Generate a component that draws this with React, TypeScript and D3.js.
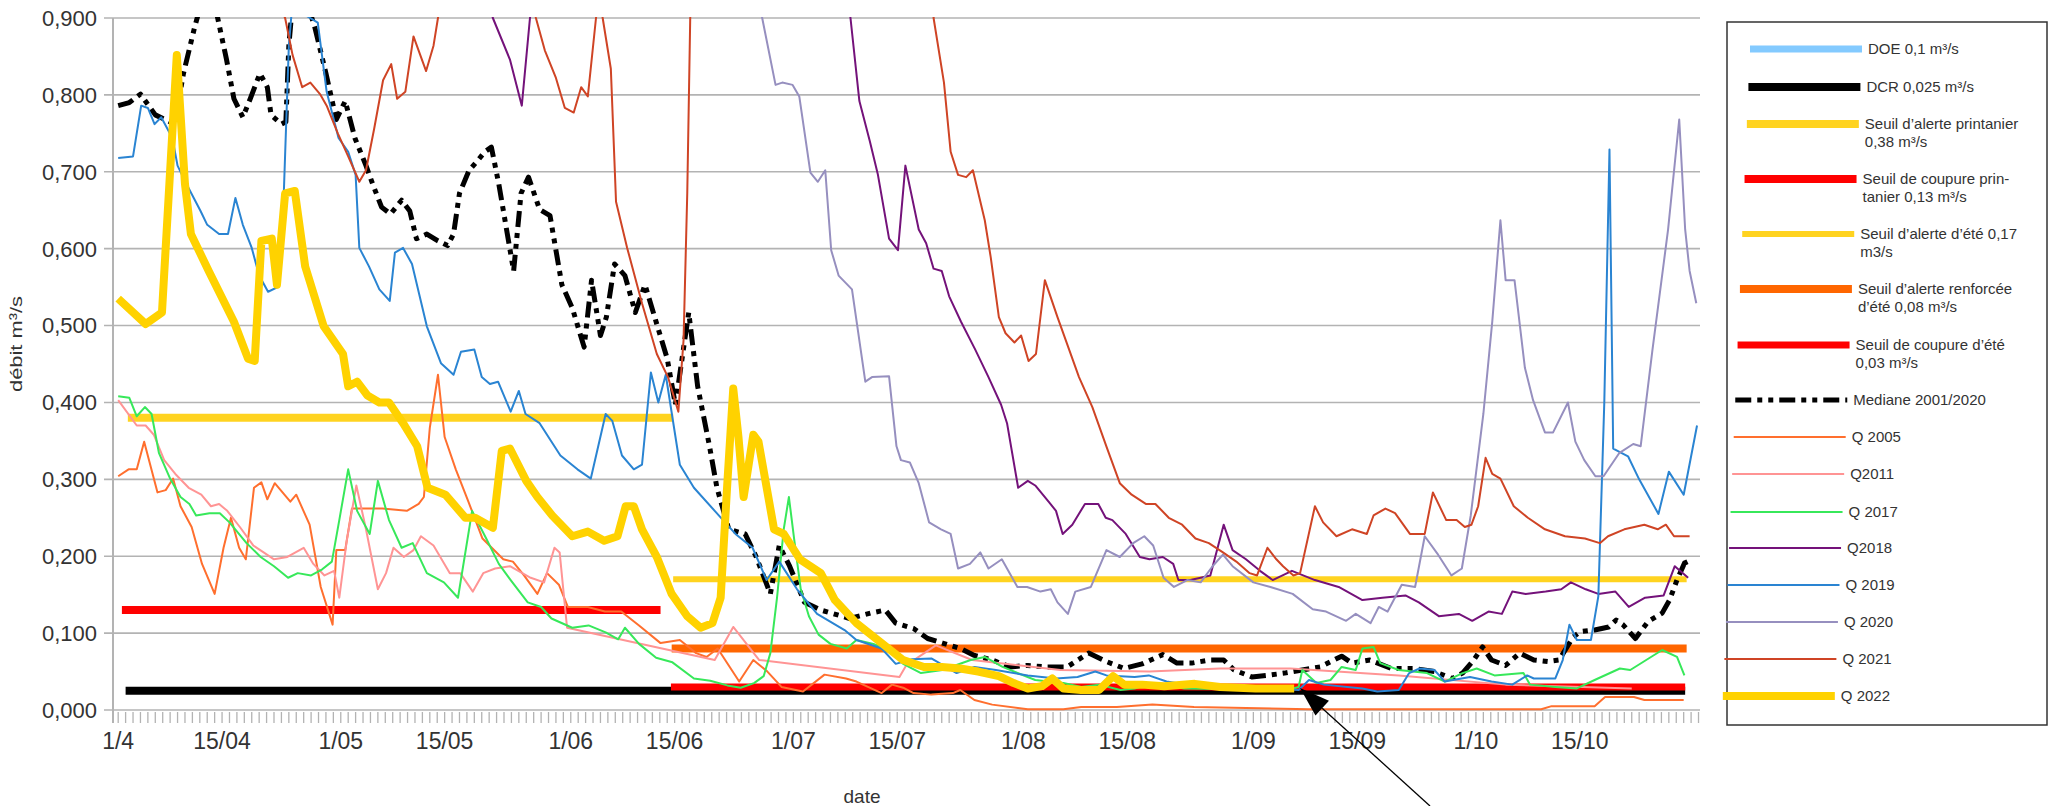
import React from 'react';
import * as d3 from 'd3';

type Pt = [number, number];

// day = number of days since 1 April, value = m³/s
const DAY0 = Date.UTC(2022, 3, 1);
const toDate = (d: number) => new Date(DAY0 + d * 864e5);

const tickDays = [0, 14, 30, 44, 61, 75, 91, 105, 122, 136, 153, 167, 183, 197];
const tickLabels = ['1/4', '15/04', '1/05', '15/05', '1/06', '15/06', '1/07', '15/07', '1/08', '15/08', '1/09', '15/09', '1/10', '15/10'];

const thresholdNames = [
  ['DOE 0,1 m³/s'],
  ['DCR 0,025 m³/s'],
  ['Seuil d’alerte printanier', '0,38 m³/s'],
  ['Seuil de coupure prin-', 'tanier 0,13 m³/s'],
  ['Seuil d’alerte d’été 0,17', 'm3/s'],
  ['Seuil d’alerte renforcée', 'd’été 0,08 m³/s'],
  ['Seuil de coupure d’été', '0,03 m³/s'],
];
const thresholdValues = [0.1, 0.025, 0.38, 0.13, 0.17, 0.08, 0.03];
const thresholdFrom = [NaN, 1, 1.3, 0.5, 74.8, 74.6, 74.5];
const thresholdTo = [NaN, 211.2, 74.8, 73.1, 211.4, 211.4, 211.2];

const mediane: Pt[] = [[0,0.786],[1.5,0.79],[3,0.801],[5,0.774],[7.6,0.762],[8.8,0.828],[10.3,0.888],[11.5,0.93],[13.3,0.905],[14.6,0.846],[15.6,0.795],[16.8,0.771],[17.8,0.795],[19.1,0.828],[20.1,0.81],[20.6,0.774],[22,0.762],[22.6,0.765],[23,0.864],[23.6,0.93],[25.1,0.93],[26.5,0.888],[28,0.828],[29.4,0.768],[30.6,0.792],[31.9,0.744],[33.4,0.708],[34.3,0.684],[35.5,0.654],[36.7,0.645],[38.2,0.663],[39.3,0.649],[40.2,0.613],[41.6,0.619],[43.1,0.61],[44.4,0.604],[45.2,0.619],[46,0.672],[47.3,0.702],[48.4,0.714],[49.4,0.726],[50.3,0.732],[51.3,0.684],[53.3,0.571],[54.3,0.672],[55.3,0.693],[56.8,0.651],[58.2,0.643],[59.8,0.553],[61.2,0.523],[62.8,0.472],[63.8,0.559],[65,0.487],[65.8,0.511],[66.9,0.58],[68.3,0.565],[69.7,0.517],[71,0.553],[72.5,0.505],[74,0.457],[75.1,0.397],[76,0.457],[76.9,0.517],[78.1,0.421],[79.7,0.343],[80.7,0.289],[82.3,0.235],[84.5,0.229],[86,0.199],[87.9,0.151],[89.1,0.214],[90.5,0.187],[92.5,0.14],[94.7,0.13],[98.6,0.119],[101.4,0.126],[103.4,0.13],[104.8,0.113],[107.2,0.106],[109.1,0.093],[111.1,0.087],[113.5,0.08],[115.4,0.071],[117.8,0.065],[120.2,0.056],[122.6,0.058],[125,0.056],[127.9,0.056],[130.8,0.074],[133.2,0.063],[135.6,0.054],[138,0.06],[140.8,0.072],[142.7,0.061],[144.7,0.061],[147.1,0.065],[149,0.065],[150.4,0.052],[152.8,0.043],[154.8,0.045],[157.2,0.048],[159.6,0.052],[162,0.056],[164.9,0.07],[166.3,0.061],[168.7,0.065],[171.6,0.054],[174.5,0.054],[177.4,0.05],[179.8,0.041],[181.2,0.048],[182.7,0.065],[183.9,0.082],[185.1,0.065],[187,0.058],[188.9,0.074],[190.8,0.065],[192.7,0.063],[194.2,0.065],[196.1,0.095],[197.1,0.102],[199,0.104],[200.9,0.108],[201.9,0.117],[202.8,0.111],[204.5,0.093],[206.2,0.115],[208.1,0.126],[209.1,0.143],[210.1,0.169],[211.1,0.191],[212,0.195]];

const q2005: Pt[] = [[0,0.304],[1.4,0.313],[2.5,0.313],[3.5,0.349],[5.3,0.283],[6.4,0.286],[7.4,0.301],[8.4,0.265],[9.9,0.238],[11.3,0.19],[13,0.151],[14.2,0.211],[15.2,0.25],[16.3,0.211],[17.2,0.196],[18.3,0.289],[19.3,0.296],[20.1,0.274],[21.1,0.295],[23.2,0.271],[24,0.28],[25.8,0.241],[27.3,0.16],[28.9,0.111],[29.4,0.208],[30.6,0.208],[31.5,0.262],[35.6,0.262],[38.9,0.259],[40.5,0.268],[41.2,0.277],[42,0.367],[43.1,0.436],[44,0.355],[45.5,0.313],[47.2,0.271],[49.1,0.223],[51.9,0.196],[53.2,0.193],[54.7,0.175],[56.5,0.151],[57.8,0.178],[59.4,0.163],[60.6,0.134],[63.3,0.134],[65.6,0.128],[67.8,0.128],[70.2,0.11],[73.1,0.087],[75.7,0.091],[77.9,0.074],[79.3,0.069],[80.8,0.08],[83.7,0.037],[85.6,0.065],[87.5,0.05],[89.4,0.03],[92.3,0.024],[95.2,0.046],[98.1,0.041],[99.5,0.037],[102.9,0.022],[104.3,0.033],[105.8,0.029],[107.2,0.022],[109.6,0.02],[112.5,0.022],[113.5,0.026],[115.4,0.013],[117.8,0.007],[122.6,0.001],[127.4,0.001],[129.8,0.004],[134.6,0.004],[139.4,0.007],[145,0.004],[160.5,0.001],[177.4,0.001],[191.8,0.001],[193.2,0.005],[199,0.005],[200.4,0.017],[204.3,0.017],[205.7,0.013],[211,0.013]];

const q2011: Pt[] = [[0,0.403],[2.5,0.37],[3.7,0.37],[4.8,0.358],[6.2,0.325],[7.7,0.307],[9.5,0.289],[11.2,0.28],[12.5,0.265],[13.6,0.268],[14.7,0.259],[16.4,0.238],[18.2,0.214],[19.6,0.205],[21,0.196],[22.8,0.199],[25,0.211],[26.3,0.19],[27.8,0.175],[29.1,0.181],[29.8,0.146],[30.8,0.22],[32.1,0.292],[33.4,0.235],[35,0.157],[36.1,0.178],[37.1,0.211],[38.5,0.199],[39.8,0.208],[40.8,0.226],[42.5,0.214],[44.7,0.178],[46.1,0.178],[47.8,0.154],[49.2,0.178],[50.8,0.184],[52.8,0.187],[55.6,0.172],[57.4,0.166],[58.8,0.211],[59.5,0.205],[60.5,0.107],[80.4,0.065],[82.9,0.108],[86.4,0.065],[105.3,0.043],[106.2,0.058],[110.2,0.084],[115.1,0.065],[127,0.052],[139,0.05],[148.5,0.054],[158,0.054],[172.6,0.045],[187,0.033],[204,0.028]];

const q2017: Pt[] = [[0,0.408],[1.5,0.406],[2.5,0.382],[3.6,0.394],[4.5,0.385],[5.5,0.334],[7,0.301],[8.4,0.277],[9.6,0.268],[10.5,0.253],[12.3,0.256],[13.7,0.256],[15,0.244],[17.3,0.217],[19.2,0.199],[21,0.187],[22.9,0.172],[24.2,0.178],[26,0.175],[27.5,0.183],[28.8,0.193],[29.8,0.247],[31,0.313],[32.2,0.259],[33.9,0.229],[35,0.298],[36.5,0.247],[38.2,0.211],[39.7,0.217],[41.6,0.178],[43.9,0.166],[45.8,0.146],[47.7,0.259],[49.6,0.223],[51.3,0.19],[52.9,0.169],[55.2,0.14],[57,0.134],[58.4,0.119],[61.2,0.107],[63.4,0.11],[65.7,0.101],[67.4,0.092],[68.3,0.107],[70.2,0.086],[72.5,0.068],[74.7,0.062],[77.6,0.041],[79.8,0.038],[82.1,0.032],[83.9,0.029],[85.7,0.035],[87,0.044],[87.9,0.074],[88.8,0.146],[89.7,0.235],[90.4,0.277],[91.1,0.223],[92,0.157],[93.1,0.122],[94.4,0.098],[96,0.086],[98.2,0.08],[99.5,0.091],[101.8,0.086],[104.5,0.074],[105.8,0.06],[108.2,0.048],[111.1,0.052],[114.9,0.065],[116.8,0.069],[119.2,0.056],[123.6,0.039],[127.4,0.035],[129.8,0.03],[132.2,0.033],[135.1,0.026],[137,0.028],[139.4,0.035],[143.7,0.028],[157.6,0.026],[159.1,0.03],[159.6,0.052],[161.5,0.035],[163.4,0.039],[164.9,0.056],[166.8,0.052],[167.7,0.08],[169.2,0.082],[170.1,0.061],[172.6,0.052],[176.4,0.048],[178.8,0.037],[181.2,0.048],[183.1,0.054],[185.5,0.045],[189.4,0.048],[190.3,0.033],[193.7,0.03],[196.6,0.028],[199,0.039],[202.4,0.054],[203.8,0.052],[208.1,0.078],[210.1,0.069],[211.1,0.045]];

const q2018: Pt[] = [[49,0.95],[50.5,0.9],[52.8,0.846],[54.4,0.786],[55.5,0.9],[56.5,0.95],[98,0.95],[98.7,0.9],[99.9,0.792],[101.3,0.74],[102.4,0.696],[103.9,0.613],[105.1,0.598],[106.1,0.708],[107.9,0.625],[108.9,0.607],[109.9,0.574],[111,0.571],[112,0.538],[113.6,0.505],[115.5,0.469],[117.3,0.433],[119,0.397],[119.8,0.373],[121.3,0.289],[122.6,0.298],[123.6,0.292],[125.4,0.271],[126.4,0.259],[127.3,0.229],[128.6,0.241],[130.3,0.268],[132.1,0.268],[133.1,0.25],[134,0.247],[135.8,0.229],[137.7,0.199],[139,0.196],[140.8,0.199],[142.2,0.19],[142.9,0.169],[144.5,0.169],[145.9,0.172],[147.2,0.175],[149,0.241],[150.2,0.208],[152,0.196],[153.9,0.181],[155.6,0.169],[158.2,0.181],[161.3,0.169],[164.5,0.16],[167.7,0.143],[170.4,0.146],[173.5,0.149],[175.3,0.14],[178,0.122],[180.7,0.125],[182.5,0.116],[184.7,0.128],[186.5,0.125],[187.9,0.154],[189.7,0.151],[192.4,0.154],[194.5,0.157],[195.8,0.166],[197.8,0.157],[199.5,0.151],[201.8,0.154],[203.6,0.134],[205.8,0.146],[208.3,0.149],[209.8,0.187],[211.6,0.172]];

const q2019: Pt[] = [[0,0.718],[2,0.72],[3.1,0.786],[4,0.783],[4.9,0.762],[5.8,0.771],[7.3,0.744],[8,0.708],[9.2,0.684],[11.1,0.649],[12,0.631],[13.6,0.619],[14.8,0.619],[15.8,0.666],[16.8,0.631],[18,0.601],[19,0.565],[20.2,0.544],[21.5,0.55],[22.3,0.666],[23,0.864],[23.4,0.91],[25,0.905],[26.9,0.894],[28.1,0.804],[29.7,0.744],[31,0.726],[32,0.696],[32.5,0.601],[33.8,0.577],[35.2,0.547],[36.6,0.532],[37.3,0.595],[38.4,0.601],[39.6,0.58],[41.6,0.499],[43.5,0.451],[45.2,0.436],[46.2,0.466],[48,0.469],[49,0.433],[50.1,0.424],[51.2,0.427],[52.9,0.388],[54,0.415],[54.9,0.385],[56.8,0.373],[59.6,0.331],[61.9,0.313],[63.7,0.301],[65.7,0.385],[66.6,0.376],[67.9,0.331],[69.5,0.313],[70.6,0.319],[71.8,0.439],[72.8,0.4],[73.8,0.436],[75.7,0.319],[77.6,0.289],[80.4,0.259],[83.2,0.229],[85.5,0.211],[87.4,0.169],[89.1,0.193],[91.5,0.157],[94.2,0.125],[97.9,0.104],[99.5,0.091],[102.9,0.08],[104.8,0.06],[107,0.066],[109.6,0.067],[113,0.048],[115.4,0.056],[118.3,0.052],[122.6,0.045],[126.4,0.041],[129.3,0.043],[131.7,0.05],[133.2,0.045],[137,0.043],[138.9,0.045],[141.3,0.037],[146.1,0.03],[150.9,0.028],[155.7,0.028],[159.1,0.026],[160.5,0.039],[162.5,0.033],[167.7,0.028],[169.7,0.024],[172.6,0.026],[174,0.048],[175.4,0.054],[177.4,0.052],[178.8,0.037],[182.2,0.043],[185.1,0.037],[187.9,0.033],[189.9,0.045],[190.8,0.041],[193.7,0.041],[194.7,0.065],[195.6,0.111],[196.6,0.091],[198.5,0.091],[199.5,0.148],[200.3,0.4],[201,0.729],[201.5,0.34],[203.5,0.33],[205,0.3],[207.6,0.255],[209,0.31],[211,0.28],[212.8,0.37]];

const q2020: Pt[] = [[85.5,0.95],[86.8,0.9],[88.6,0.813],[89.5,0.816],[90.9,0.813],[91.8,0.798],[93.3,0.699],[94.3,0.687],[95.3,0.702],[96.1,0.598],[97.1,0.565],[98.9,0.547],[100.7,0.427],[101.6,0.433],[103.9,0.434],[104.9,0.343],[105.5,0.325],[106.7,0.322],[107.9,0.295],[109.3,0.244],[110.9,0.235],[112.2,0.229],[113.2,0.184],[114.8,0.19],[116.2,0.205],[117.3,0.184],[119.1,0.196],[121.2,0.16],[122.5,0.16],[124.3,0.154],[125.7,0.157],[126.6,0.14],[128,0.125],[129,0.154],[131.1,0.16],[133.2,0.208],[135,0.199],[136.8,0.217],[138.3,0.226],[139.5,0.214],[140.9,0.172],[142.3,0.16],[144.1,0.169],[145.9,0.166],[147.5,0.187],[148.9,0.202],[150.2,0.187],[153,0.166],[155.3,0.16],[158.3,0.151],[161,0.131],[162.8,0.128],[165.5,0.116],[166.8,0.125],[168.8,0.113],[169.9,0.134],[171.1,0.128],[173,0.163],[174.8,0.16],[176.1,0.226],[177.9,0.202],[179.7,0.175],[181.1,0.184],[182.3,0.253],[184,0.385],[185.2,0.505],[186.3,0.637],[187,0.559],[188.2,0.559],[189.6,0.445],[190.7,0.403],[192.3,0.361],[193.4,0.361],[195.4,0.4],[196.4,0.349],[197.6,0.325],[199.1,0.304],[200.2,0.304],[202.3,0.334],[204.2,0.346],[205.2,0.343],[206.8,0.469],[208.9,0.625],[210.4,0.768],[211.2,0.625],[211.8,0.571],[212.7,0.529]];

const q2021: Pt[] = [[20,0.95],[22.5,0.9],[23.5,0.852],[24.8,0.81],[25.9,0.816],[27.2,0.801],[28.1,0.786],[29.6,0.75],[31,0.72],[32.5,0.687],[33.4,0.702],[34.5,0.756],[35.7,0.819],[36.8,0.84],[37.6,0.795],[38.7,0.804],[39.8,0.876],[41.5,0.831],[42.5,0.864],[43.1,0.9],[44,0.95],[55.5,0.95],[56.3,0.9],[57.5,0.858],[59,0.822],[60.2,0.783],[61.4,0.777],[62.4,0.81],[63.3,0.798],[64.4,0.9],[64.8,0.93],[65.3,0.9],[66.4,0.834],[67.1,0.661],[68.6,0.601],[70.6,0.529],[72.6,0.463],[74.1,0.433],[75.5,0.388],[76.2,0.481],[76.7,0.672],[77.1,0.9],[77.6,0.95],[109.5,0.95],[109.9,0.9],[111.3,0.816],[112.2,0.726],[113.2,0.696],[114.3,0.693],[115.2,0.702],[116.8,0.637],[117.6,0.589],[118.7,0.511],[119.6,0.49],[120.8,0.478],[121.7,0.487],[122.7,0.454],[123.7,0.463],[124.9,0.559],[126.6,0.511],[129.5,0.433],[131.3,0.394],[133.3,0.34],[135,0.295],[136.6,0.28],[138.5,0.268],[139.8,0.268],[141.6,0.25],[143.4,0.241],[145.2,0.223],[147,0.217],[148.9,0.205],[150.7,0.193],[152.5,0.178],[153.5,0.175],[154.9,0.211],[156.1,0.196],[157,0.187],[158.4,0.175],[159.3,0.178],[161.3,0.265],[162.4,0.244],[164.2,0.226],[166.3,0.235],[168.3,0.229],[169.2,0.253],[170.8,0.262],[172.1,0.256],[174.1,0.229],[176.1,0.229],[177.2,0.283],[179,0.247],[180.4,0.247],[181.5,0.238],[182.4,0.241],[183.3,0.265],[184.3,0.328],[185.2,0.307],[186.3,0.301],[188.1,0.265],[190,0.25],[192.3,0.235],[195,0.226],[197.7,0.223],[199.7,0.217],[200.8,0.226],[203,0.235],[205.7,0.241],[207.5,0.235],[208.6,0.241],[209.7,0.226],[211.8,0.226]];

const q2022: Pt[] = [[0,0.535],[3.7,0.502],[5.9,0.517],[7.9,0.852],[9,0.684],[9.8,0.619],[12.2,0.571],[15.6,0.505],[17.5,0.457],[18.4,0.454],[19.3,0.61],[20.7,0.613],[21.4,0.553],[22.5,0.672],[23.8,0.675],[25.2,0.577],[27.7,0.499],[30.3,0.463],[31,0.421],[32.2,0.427],[33.6,0.409],[35.2,0.4],[36.5,0.4],[38.4,0.373],[40.3,0.343],[41.7,0.289],[44.1,0.28],[46.8,0.25],[48.1,0.25],[50.5,0.237],[51.7,0.337],[52.8,0.34],[55,0.298],[56.5,0.277],[58.5,0.253],[61.2,0.226],[63.3,0.232],[65.5,0.22],[67.3,0.226],[68.4,0.265],[69.5,0.265],[70.6,0.235],[72.6,0.199],[74.6,0.151],[76.7,0.122],[78.5,0.107],[80.1,0.113],[81.2,0.146],[82.1,0.295],[82.9,0.418],[83.6,0.355],[84.3,0.277],[85.6,0.358],[86.3,0.349],[88.4,0.235],[89.7,0.229],[91.9,0.196],[94.7,0.178],[96.6,0.143],[99.5,0.113],[102.9,0.087],[105.8,0.065],[108.6,0.056],[111,0.056],[113.5,0.054],[115.9,0.05],[118.7,0.044],[120.7,0.035],[122.6,0.028],[124.5,0.031],[125.9,0.041],[127.4,0.028],[129.8,0.026],[132.2,0.026],[134.1,0.044],[135.6,0.033],[138,0.033],[141,0.031],[145.1,0.034],[148.5,0.03],[153.3,0.028],[158.5,0.028]];

const seriesNames = ['Mediane 2001/2020', 'Q 2005', 'Q2011', 'Q 2017', 'Q2018', 'Q 2019', 'Q 2020', 'Q 2021', 'Q 2022'];
const seriesData = [mediane, q2005, q2011, q2017, q2018, q2019, q2020, q2021, q2022];

const thresholdStyles = [
  { color: '#83caff', width: 7 },
  { color: '#000000', width: 8 },
  { color: '#ffd320', width: 8 },
  { color: '#ff0000', width: 8 },
  { color: '#ffd320', width: 6 },
  { color: '#ff6600', width: 8 },
  { color: '#ff0000', width: 7 },
];
const seriesStyles = [
  { color: '#000000', width: 5, dash: '16 6 5 6 5 6' },
  { color: '#ff6f2e', width: 2, dash: '' },
  { color: '#ff9494', width: 2, dash: '' },
  { color: '#37e85a', width: 2, dash: '' },
  { color: '#74127a', width: 2, dash: '' },
  { color: '#2a84d2', width: 2, dash: '' },
  { color: '#968fbf', width: 2, dash: '' },
  { color: '#cf4425', width: 2, dash: '' },
  { color: '#ffd200', width: 8, dash: '' },
];

const FONT = '"Liberation Sans", Arial, sans-serif';
const fmt = d3.formatLocale({ decimal: ',', thousands: ' ', grouping: [3], currency: ['', '€'] }).format('.3f');

export default function App() {
  const left = 113, right = 1700, top = 18, bottom = 710;
  const x = d3.scaleUtc().domain([toDate(-0.7), toDate(213.2)]).range([left, right]);
  const y = d3.scaleLinear().domain([0, 0.9]).range([bottom, top]);
  const line = d3.line<Pt>().x(d => x(toDate(d[0]))).y(d => y(d[1]));
  const days = x.ticks(d3.utcDay.every(1)!);

  const legendRows = [49, 87, 124, 179, 234, 289, 345, 400, 437, 474, 512, 548, 585, 622, 659, 696];
  const legendItems = [
    ...thresholdNames.map((t, i) => ({ text: t, ...thresholdStyles[i], dash: '' })),
    ...seriesNames.map((n, i) => ({ text: [n], ...seriesStyles[i] })),
  ];

  // arrow
  const ax0 = 1430, ay0 = 806, ax1 = 1300, ay1 = 688;
  const len = Math.hypot(ax1 - ax0, ay1 - ay0);
  const ux = (ax1 - ax0) / len, uy = (ay1 - ay0) / len;
  const bx = ax1 - ux * 30, by = ay1 - uy * 30;

  return (
    <svg width={2057} height={806} style={{ position: 'absolute', left: 0, top: 0, background: '#fff' }} fontFamily={FONT}>
      <rect width={2057} height={806} fill="#fff" />
      <defs>
        <clipPath id="plot">
          <rect x={left} y={top - 1} width={right - left} height={bottom - top + 6} />
        </clipPath>
      </defs>

      {/* grid + y axis */}
      {y.ticks(9).map(t => (
        <g key={t}>
          <line x1={left - 9} x2={right} y1={y(t)} y2={y(t)} stroke="#b3b3b3" strokeWidth={1.6} />
          <text x={97} y={y(t)} dy="0.36em" textAnchor="end" fontSize={22} fill="#333">{fmt(t)}</text>
        </g>
      ))}
      <line x1={left} x2={left} y1={top} y2={bottom + 13} stroke="#b3b3b3" strokeWidth={2} />
      {days.map((d, i) => (
        <line key={i} x1={x(d)} x2={x(d)} y1={bottom + 2} y2={bottom + 13} stroke="#b3b3b3" strokeWidth={1.3} />
      ))}
      {tickDays.map((d, i) => (
        <text key={d} x={x(toDate(d))} y={749} textAnchor="middle" fontSize={23} fill="#333">{tickLabels[i]}</text>
      ))}
      <text x={862} y={803} textAnchor="middle" fontSize={19} fill="#333">date</text>
      <text transform="translate(16,344) rotate(-90)" textAnchor="middle" dy="0.35em" fontSize={17} fill="#333"
        textLength={96} lengthAdjust="spacingAndGlyphs">débit m³/s</text>

      <g clipPath="url(#plot)">
        {thresholdValues.map((v, i) => isNaN(thresholdFrom[i]) ? null : (
          <line key={i} x1={x(toDate(thresholdFrom[i]))} x2={x(toDate(thresholdTo[i]))} y1={y(v)} y2={y(v)}
            stroke={thresholdStyles[i].color} strokeWidth={thresholdStyles[i].width} />
        ))}
        {seriesData.map((s, i) => (
          <path key={i} d={line(s) || ''} fill="none" stroke={seriesStyles[i].color}
            strokeWidth={seriesStyles[i].width} strokeDasharray={seriesStyles[i].dash || undefined}
            strokeLinejoin="round" />
        ))}
      </g>

      {/* legend */}
      <rect x={1727} y={22} width={320} height={703} fill="#fff" stroke="#333" strokeWidth={1.5} />
      {legendItems.map((it, i) => {
        const ly = legendRows[i];
        const x1 = 1750 - 0.042 * (ly - 49);
        return (
          <g key={i}>
            <line x1={x1} x2={x1 + 112} y1={ly} y2={ly} stroke={it.color} strokeWidth={it.width}
              strokeDasharray={it.dash || undefined} />
            {it.text.map((t, k) => (
              <text key={k} x={x1 + 118} y={ly + k * 18} dy="0.35em" fontSize={15} fill="#333">{t}</text>
            ))}
          </g>
        );
      })}

      {/* arrow */}
      <line x1={ax0} y1={ay0} x2={bx} y2={by} stroke="#000" strokeWidth={1.3} />
      <path d={`M${ax1},${ay1}L${bx - uy * 10},${by + ux * 10}L${bx + uy * 10},${by - ux * 10}Z`} fill="#000" />
    </svg>
  );
}
